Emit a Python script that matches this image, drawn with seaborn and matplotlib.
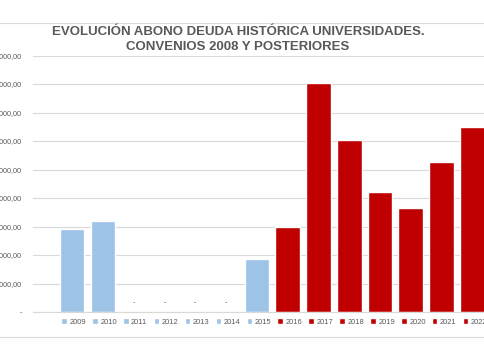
import pandas as pd
import numpy as np
import matplotlib.pyplot as plt
import seaborn as sns
from matplotlib.patches import Patch, Rectangle
from matplotlib.ticker import FuncFormatter, MultipleLocator

# data (euros)
years = ["2009", "2010", "2011", "2012", "2013", "2014", "2015",
         "2016", "2017", "2018", "2019", "2020", "2021", "2022"]
amounts = [2900000, 3190000, 0, 0, 0, 0, 1850000,
           2970000, 8050000, 6030000, 4200000, 3650000, 5260000, 6500000]
groups = ["old"] * 7 + ["new"] * 7
group_colors = {"old": "#9DC3E6", "new": "#C00000"}

y_step = 1000000
y_max = 9000000

GREY = "#595959"
GRID = "#D9D9D9"


def es_format(v, pos=None):
    if v == 0:
        return "-"
    s = f"{v:,.2f}"
    return s.replace(",", "X").replace(".", ",").replace("X", ".")


df = pd.DataFrame({"Year": years, "Amount": amounts, "Group": groups})

sns.set_style("white")
plt.rcParams["font.family"] = ["Liberation Sans", "DejaVu Sans"]

fig = plt.figure(figsize=(4.85, 3.6), dpi=100)
ax = fig.add_axes([33 / 485, 48 / 360, 478.5 / 485, 256.5 / 360])

sns.barplot(
    data=df,
    x="Year",
    y="Amount",
    hue="Group",
    palette=group_colors,
    saturation=1,
    dodge=False,
    width=0.8,
    legend=False,
    ax=ax,
)

# "-" labels over the empty years
for i, v in enumerate(amounts):
    if v == 0:
        ax.annotate("-", (i, v), xytext=(0, 4), textcoords="offset points",
                    ha="center", va="bottom", fontsize=5, color=GREY)

ax.set_xlim(-1.27, len(years) - 1 + 1.27)
ax.set_ylim(0, y_max)
ax.yaxis.set_major_locator(MultipleLocator(y_step))
ax.yaxis.set_major_formatter(FuncFormatter(es_format))
ax.grid(axis="y", color=GRID, linewidth=0.8)
ax.set_axisbelow(True)
ax.tick_params(axis="y", length=0, pad=8, labelsize=5.2, labelcolor=GREY)
ax.set_xticks([])
ax.set_xlabel("")
ax.set_ylabel("")
for side in ["top", "left", "right"]:
    ax.spines[side].set_visible(False)
ax.spines["bottom"].set_color(GRID)
ax.spines["bottom"].set_linewidth(0.8)

# legend row under the bars
handles = [Patch(facecolor=group_colors[g], label=y) for y, g in zip(years, groups)]
fig.legend(
    handles=handles,
    loc="center left",
    bbox_to_anchor=(61.5 / 485, 1 - 322 / 360),
    ncol=len(years),
    frameon=False,
    fontsize=5.4,
    labelcolor=GREY,
    handlelength=0.7,
    handleheight=0.7,
    handletextpad=0.35,
    columnspacing=0.85,
    borderpad=0,
    borderaxespad=0,
)

fig.text(
    238 / 485, 1 - 39.5 / 360,
    "EVOLUCIÓN ABONO DEUDA HISTÓRICA UNIVERSIDADES.\nCONVENIOS 2008 Y POSTERIORES",
    ha="center", va="center", fontsize=9.5, fontweight="bold", color=GREY,
    linespacing=1.3,
)

# chart area border
fig.add_artist(Rectangle((-0.05, 1 - 337 / 360), 1.1, 314 / 360,
                         transform=fig.transFigure, fill=False,
                         edgecolor=GRID, linewidth=0.8))

fig.savefig("out.png", dpi=100)
